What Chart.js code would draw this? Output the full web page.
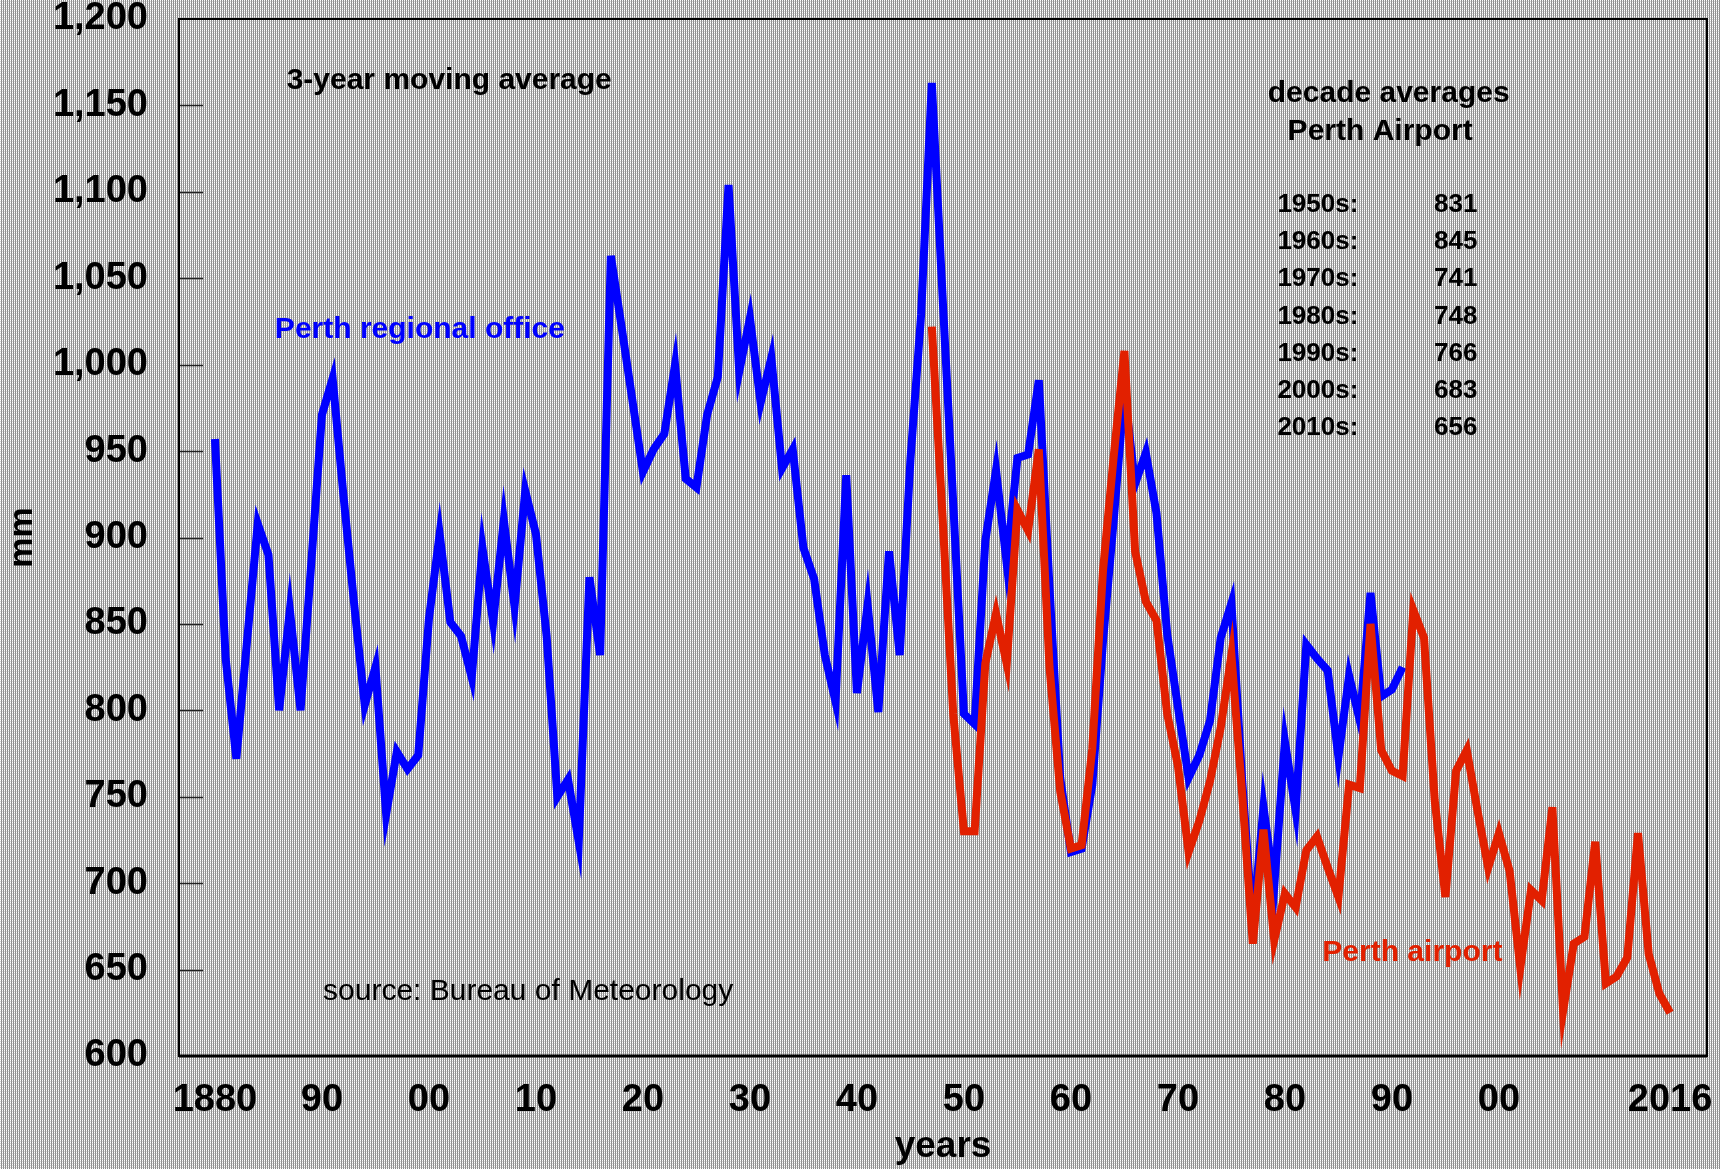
<!DOCTYPE html>
<html>
<head>
<meta charset="utf-8">
<script src="https://cdn.jsdelivr.net/npm/chart.js@4.4.0/dist/chart.umd.min.js"></script>
<style>
  html, body { margin: 0; padding: 0; background: #bbb; }
  canvas { display: block; }
</style>
</head>
<body>
<canvas id="rain" width="1720" height="1169"></canvas>
<script>
// 3-year moving average of annual rainfall (mm)
const officeStart = 1880
const officeRain = [
    957, 830, 772, 840, 908, 890, 800, 858, 800, 885,
    971, 992, 925, 862, 803, 825, 740, 776, 766, 774,
    853, 902, 851, 843, 819, 894, 851, 910, 860, 927,
    902, 843, 750, 760, 724, 877, 832, 1063, 1022, 980,
    938, 951, 960, 1000, 934, 929, 971, 993, 1104, 996,
    1027, 978, 1004, 940, 951, 894, 876, 832, 805, 936,
    810, 861, 799, 892, 832, 945, 1029, 1163, 1040, 920,
    798, 792, 898, 939, 885, 946, 948, 991, 871, 761,
    718, 720, 757, 840, 910, 985, 931, 949, 914, 844,
    802, 761, 774, 794, 842, 862, 760, 675, 744, 698,
    782, 742, 838, 830, 823, 773, 820, 794, 868, 808,
    812, 825,
]

const airportStart = 1947
const airportRain = [
    1022, 912, 798,
    730, 730, 827, 856, 827, 916, 904, 951, 825, 753,
    720, 722, 778, 881, 947, 1008, 892, 863, 852, 798,
    768, 718, 736, 759, 790, 832, 752, 665, 731, 667,
    694, 686, 719, 727, 709, 692, 757, 755, 850, 777,
    765, 762, 858, 842, 748, 692, 765, 777, 742, 709,
    729, 707, 651, 696, 690, 744, 626, 665, 669, 724,
    642, 646, 657, 729, 659, 636, 625,
]

const xTicks = [1880, 1890, 1900, 1910, 1920, 1930, 1940, 1950, 1960, 1970, 1980, 1990, 2000, 2016]
const xTickLabels = ['1880', '90', '00', '10', '20', '30', '40', '50', '60', '70', '80', '90', '00', '2016']

const decades = ['1950s:', '1960s:', '1970s:', '1980s:', '1990s:', '2000s:', '2010s:']
const decadeAverages = [831, 845, 741, 748, 766, 683, 656]

const FONT = '"Liberation Sans", Arial, Helvetica, sans-serif'
const BLUE = '#0000ff'
const RED = '#e22000'

function toPoints(start, values) {
    return values.map(function (v, i) {return {x: start + i, y: v}})
}

// halftone-like background
function makePattern(ctx) {
    const tile = document.createElement('canvas')
    tile.width = 2
    tile.height = 2
    const t = tile.getContext('2d')
    t.fillStyle = '#ffffff'; t.fillRect(0, 0, 1, 1)
    t.fillStyle = '#8a8a8a'; t.fillRect(1, 0, 1, 1)
    t.fillStyle = '#d4d4d4'; t.fillRect(0, 1, 1, 1)
    t.fillStyle = '#979797'; t.fillRect(1, 1, 1, 1)
    return ctx.createPattern(tile, 'repeat')
}

const backgroundPlugin = {
    id: 'halftone',
    beforeDraw(chart) {
        const ctx = chart.ctx
        ctx.save()
        ctx.fillStyle = makePattern(ctx)
        ctx.fillRect(0, 0, chart.width, chart.height)
        ctx.restore()
    },
}

function text(ctx, str, x, y, opts) {
    ctx.font = (opts.weight || 'bold') + ' ' + opts.size + 'px ' + FONT
    ctx.fillStyle = opts.color || '#000'
    ctx.textAlign = opts.align || 'left'
    ctx.textBaseline = 'middle'
    ctx.fillText(str, x, y)
}

const framePlugin = {
    id: 'frame',
    afterDraw(chart) {
        const ctx = chart.ctx
        const a = chart.chartArea
        const xs = chart.scales.x
        const ys = chart.scales.y
        ctx.save()

        // inside tick marks on the left
        ctx.strokeStyle = '#222'
        ctx.lineWidth = 1.5
        ys.ticks.forEach(function (t) {
            if (t.value <= 600 || t.value >= 1200) return
            const y = Math.round(ys.getPixelForValue(t.value)) + 0.5
            ctx.beginPath()
            ctx.moveTo(a.left, y)
            ctx.lineTo(a.left + 24, y)
            ctx.stroke()
        })

        // frame
        ctx.strokeStyle = '#000'
        ctx.lineWidth = 2
        ctx.strokeRect(a.left, a.top, a.right - a.left, a.bottom - a.top)
        ctx.lineWidth = 3
        ctx.beginPath()
        ctx.moveTo(a.left, a.bottom)
        ctx.lineTo(a.right, a.bottom)
        ctx.stroke()

        // annotations
        const px = function (v) {return xs.getPixelForValue(v)}
        const py = function (v) {return ys.getPixelForValue(v)}
        text(ctx, '3-year moving average', px(1886.7), py(1164.5), {size: 30})
        text(ctx, 'Perth regional office', px(1885.6), py(1020), {size: 30, color: BLUE})
        text(ctx, 'decade averages', px(1989.7), py(1157), {size: 30, align: 'center'})
        text(ctx, 'Perth Airport', px(1988.9), py(1134.5), {size: 30, align: 'center'})
        decades.forEach(function (d, i) {
            const y = py(1092.4 - i * 21.5)
            text(ctx, d, px(1979.3), y, {size: 26})
            text(ctx, String(decadeAverages[i]), px(1998.0), y, {size: 26, align: 'right'})
        })
        text(ctx, 'source: Bureau of Meteorology', px(1890.1), py(637), {size: 30, weight: 'normal'})
        text(ctx, 'Perth airport', px(1983.5), py(659.5), {size: 30, color: RED})

        ctx.restore()
    },
}

const config = {
    type: 'line',
    data: {
        datasets: [
            {
                label: 'Perth airport',
                data: toPoints(airportStart, airportRain),
                borderColor: RED,
                backgroundColor: RED,
                borderWidth: 8,
                pointRadius: 0,
                tension: 0,
                borderJoinStyle: 'miter',
                borderCapStyle: 'butt',
            },
            {
                label: 'Perth regional office',
                data: toPoints(officeStart, officeRain),
                borderColor: BLUE,
                backgroundColor: BLUE,
                borderWidth: 8,
                pointRadius: 0,
                tension: 0,
                borderJoinStyle: 'miter',
                borderCapStyle: 'butt',
            },
        ],
    },
    options: {
        responsive: false,
        animation: false,
        layout: {padding: {top: 19, right: 13, left: 0, bottom: 0}},
        plugins: {
            legend: {display: false},
            tooltip: {enabled: false},
            title: {display: false},
        },
        scales: {
            x: {
                type: 'linear',
                min: 1876.64,
                max: 2019.45,
                afterFit: function (scale) {
                    scale.height = 113
                    scale.paddingLeft = 0
                    scale.paddingRight = 0
                },
                afterBuildTicks: function (scale) {
                    scale.ticks = xTicks.map(function (v) {return {value: v}})
                },
                grid: {display: false, drawTicks: false},
                border: {display: false},
                ticks: {
                    autoSkip: false,
                    maxRotation: 0,
                    padding: 22,
                    color: '#000',
                    font: {family: FONT, size: 38, weight: 'bold'},
                    callback: function (value) {
                        const i = xTicks.indexOf(value)
                        return i >= 0 ? xTickLabels[i] : ''
                    },
                },
                title: {
                    display: true,
                    text: 'years',
                    color: '#000',
                    font: {family: FONT, size: 37, weight: 'bold'},
                    padding: {top: 0, bottom: 0},
                },
            },
            y: {
                min: 600,
                max: 1200,
                afterFit: function (scale) {
                    scale.width = 179
                    scale.paddingTop = 0
                    scale.paddingBottom = 0
                },
                grid: {display: false, drawTicks: false},
                border: {display: false},
                ticks: {
                    stepSize: 50,
                    padding: 31,
                    color: '#000',
                    font: {family: FONT, size: 38, weight: 'bold'},
                    callback: function (value) {return value.toLocaleString('en-US')},
                },
                title: {
                    display: true,
                    text: 'mm',
                    color: '#000',
                    font: {family: FONT, size: 34, weight: 'bold'},
                    padding: {top: 2, bottom: 0},
                },
            },
        },
    },
    plugins: [backgroundPlugin, framePlugin],
}

const chart = new Chart(document.querySelector('#rain'), config)
</script>
</body>
</html>
